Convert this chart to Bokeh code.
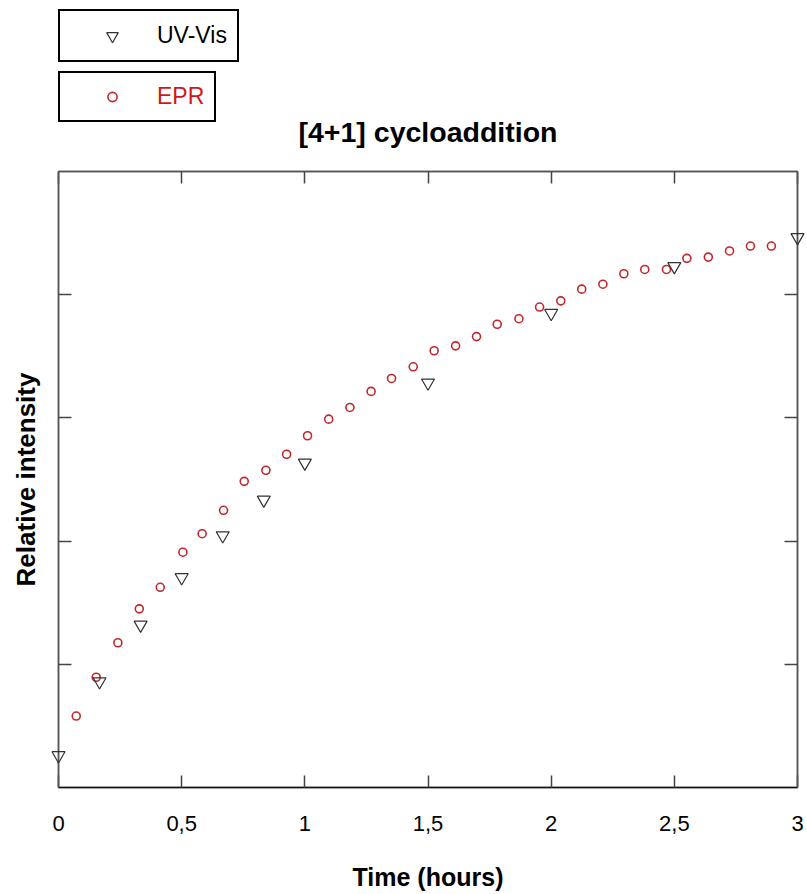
from bokeh.plotting import figure
from bokeh.layouts import column
from bokeh.models import (Range1d, LinearAxis, FixedTicker, Legend, LegendItem, Label,
                          CustomLabelingPolicy)
from bokeh.embed import file_html
from bokeh.resources import INLINE

# ---- data ----
uv_time = [0.0, 1/6, 1/3, 0.5, 2/3, 5/6, 1.0, 1.5, 2.0, 2.5, 3.0]
uv_int = [0.052, 0.172, 0.264, 0.341, 0.409, 0.467, 0.527, 0.657, 0.770, 0.846, 0.893]

epr_time = [0.072, 0.153, 0.241, 0.328, 0.413, 0.505, 0.583, 0.670, 0.754, 0.842,
            0.926, 1.011, 1.097, 1.183, 1.269, 1.352, 1.440, 1.525, 1.612, 1.697,
            1.781, 1.869, 1.953, 2.039, 2.124, 2.210, 2.295, 2.380, 2.468, 2.551,
            2.638, 2.724, 2.809, 2.894]
epr_int = [0.116, 0.179, 0.235, 0.290, 0.325, 0.382, 0.412, 0.450, 0.497, 0.515,
           0.541, 0.571, 0.598, 0.617, 0.643, 0.664, 0.683, 0.709, 0.717, 0.732,
           0.752, 0.761, 0.780, 0.790, 0.809, 0.817, 0.834, 0.841, 0.841, 0.859,
           0.861, 0.871, 0.879, 0.879]

x_ticks = [0, 0.5, 1, 1.5, 2, 2.5, 3]
x_tick_labels = ["0", "0,5", "1", "1,5", "2", "2,5", "3"]
y_ticks = [0.2, 0.4, 0.6, 0.8]

title_text = "[4+1] cycloaddition"
x_label = "Time (hours)"
y_label = "Relative intensity"
series_names = ["UV-Vis", "EPR"]

FONT = "Liberation Sans"
RED = "#c0282c"
TRI = "#333333"


def no_labels():
    # tick marks only: drop every tick label of the axis
    return CustomLabelingPolicy(code="for (const i of [...indices]) indices.unset(i); return indices")


# ---------------- main plot ----------------
p = figure(width=807, height=726, x_range=Range1d(0, 3), y_range=Range1d(0, 1),
           min_border_left=58, min_border_right=10, min_border_top=3, min_border_bottom=107,
           toolbar_location=None, output_backend="svg", title=None,
           x_axis_label=x_label, y_axis_label=y_label)

p.xgrid.visible = False
p.ygrid.visible = False
p.outline_line_color = "#555555"
p.outline_line_width = 1.5

xa = p.xaxis[0]
xa.ticker = FixedTicker(ticks=x_ticks)
xa.major_label_overrides = {t: l for t, l in zip(x_ticks, x_tick_labels)}
xa.major_tick_in = 12
xa.major_tick_out = 0
xa.minor_tick_line_color = None
xa.axis_line_color = "#111111"
xa.axis_line_width = 1.5
xa.major_tick_line_color = "#444444"
xa.major_tick_line_width = 1.5
xa.major_label_text_font = FONT
xa.major_label_text_font_size = "22px"
xa.major_label_text_color = "black"
xa.major_label_standoff = 28
xa.axis_label_text_font = FONT
xa.axis_label_text_font_size = "25px"
xa.axis_label_text_font_style = "bold"
xa.axis_label_text_color = "black"
xa.axis_label_standoff = 29

ya = p.yaxis[0]
ya.ticker = FixedTicker(ticks=y_ticks)
ya.major_label_policy = no_labels()
ya.major_label_text_font_size = "0px"
ya.major_label_standoff = 0
ya.major_tick_in = 13
ya.major_tick_out = 0
ya.minor_tick_line_color = None
ya.axis_line_color = "#555555"
ya.axis_line_width = 1.5
ya.major_tick_line_color = "#444444"
ya.major_tick_line_width = 1.5
ya.axis_label_text_font = FONT
ya.axis_label_text_font_size = "26px"
ya.axis_label_text_font_style = "bold"
ya.axis_label_text_color = "black"
ya.axis_label_standoff = 18

top = LinearAxis(ticker=FixedTicker(ticks=x_ticks), major_label_text_font_size="0px",
                 major_label_policy=no_labels(),
                 major_label_standoff=0, major_tick_in=12, major_tick_out=0,
                 minor_tick_line_color=None, axis_line_color="#555555", axis_line_width=1.5,
                 major_tick_line_color="#444444", major_tick_line_width=1.5)
p.add_layout(top, "above")
right = LinearAxis(ticker=FixedTicker(ticks=y_ticks), major_label_text_font_size="0px",
                   major_label_policy=no_labels(),
                   major_label_standoff=0, major_tick_in=13, major_tick_out=0,
                   minor_tick_line_color=None, axis_line_color="#555555", axis_line_width=1.5,
                   major_tick_line_color="#444444", major_tick_line_width=1.5)
p.add_layout(right, "right")

p.scatter(epr_time, epr_int, marker="circle", size=8, fill_color=None,
          line_color=RED, line_width=1.6, level="overlay")
p.scatter(uv_time, uv_int, marker="inverted_triangle", size=13, fill_color=None,
          line_color=TRI, line_width=1.2, level="overlay")

# ---------------- header strip: legends + title ----------------
h = figure(width=807, height=168, x_range=Range1d(10, 11), y_range=Range1d(10, 11),
           min_border_left=0, min_border_right=0, min_border_top=0, min_border_bottom=0,
           toolbar_location=None, output_backend="svg", title=None,
           x_axis_type=None, y_axis_type=None)
h.xgrid.visible = False
h.ygrid.visible = False
h.outline_line_color = None

# same series, kept outside the strip's view; they only feed the legend keys
h_uv = h.scatter(uv_time, uv_int, marker="inverted_triangle", fill_color=None,
                 line_color=TRI, line_width=1.2)
h_epr = h.scatter(epr_time, epr_int, marker="circle", fill_color=None,
                  line_color=RED, line_width=1.6)


def make_legend(name, rend, loc, color, glyph_h):
    return Legend(items=[LegendItem(label=name, renderers=[rend])], location=loc,
                  border_line_color="black", border_line_width=2, border_line_alpha=1.0,
                  background_fill_color="white", background_fill_alpha=1.0,
                  padding=10, spacing=0, margin=0, glyph_width=84, glyph_height=glyph_h,
                  label_standoff=3, label_text_font=FONT, label_text_font_size="23px",
                  label_text_color=color)


# the strip's frame lines up with the main frame (left edge at x=58)
h.add_layout(make_legend(series_names[0], h_uv, (0, 106), "black", 29))
h.add_layout(make_legend(series_names[1], h_epr, (0, 46), "#d01818", 23))

h.add_layout(Label(x=369.5, y=37, x_units="screen", y_units="screen", text=title_text,
                   text_align="center", text_baseline="alphabetic", text_font=FONT,
                   text_font_size="28.5px", text_font_style="bold", text_color="black"))

layout = column(h, p, spacing=0)
open("out.html", "w").write(file_html(layout, INLINE))
